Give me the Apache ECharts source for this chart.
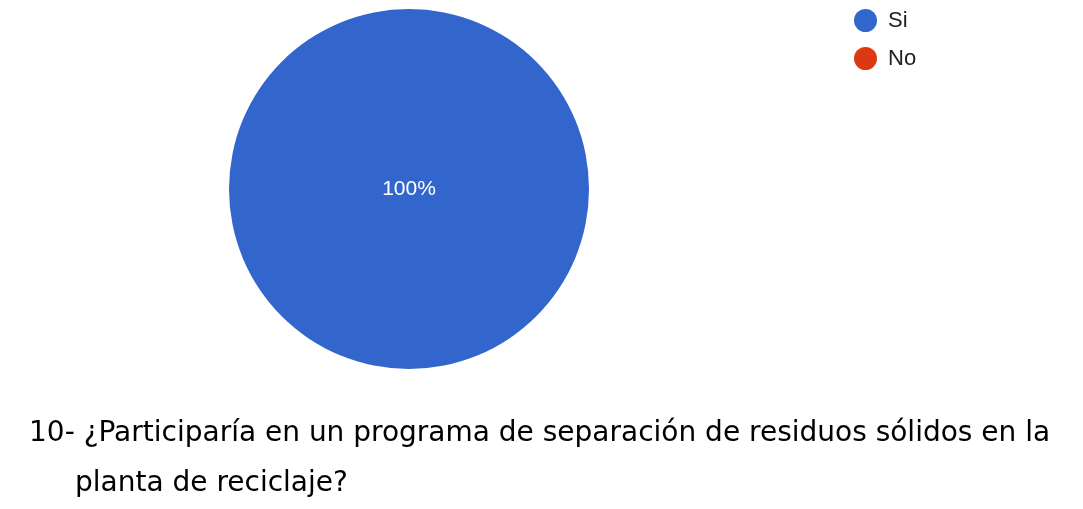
<!DOCTYPE html>
<html>
<head>
<meta charset="utf-8">
<script src="https://cdn.jsdelivr.net/npm/echarts@6/dist/echarts.min.js"></script>
<style>html,body{margin:0;padding:0;background:#fff;}#c{width:1083px;height:509px;}</style>
</head>
<body>
<div id="c"></div>
<script>
const categories = ["Si", "No"];
const values = [100, 0];
const colors = ["#3366cc", "#dc3912"];
const titleLines = [
  "10- ¿Participaría en un programa de separación de residuos sólidos en la",
  "planta de reciclaje?"
];

const chart = echarts.init(document.getElementById('c'));
chart.setOption({
  animation: false,
  color: colors,
  title: [
    { text: titleLines[0], left: 29, top: 420, padding: 0, textStyle: { fontFamily: 'DejaVu Sans', fontSize: 28, fontWeight: 'normal', color: '#000' } },
    { text: titleLines[1], left: 75, top: 470, padding: 0, textStyle: { fontFamily: 'DejaVu Sans', fontSize: 28, fontWeight: 'normal', color: '#000' } }
  ],
  legend: {
    orient: 'vertical',
    left: 849,
    top: 4,
    padding: 5,
    icon: 'circle',
    itemWidth: 23,
    itemHeight: 23,
    itemGap: 15,
    data: categories,
    textStyle: { fontFamily: 'Liberation Sans, Arial', fontSize: 22, color: '#222', padding: [0, 0, 0, 6] }
  },
  series: [{
    type: 'pie',
    center: [409, 189],
    radius: 180,
    startAngle: 90,
    clockwise: true,
    stillShowZeroSum: false,
    itemStyle: { borderWidth: 0 },
    label: {
      position: 'center',
      formatter: function (p) { return p.value > 0 ? Math.round(p.percent) + '%' : ''; },
      color: '#fff',
      fontFamily: 'Liberation Sans, Arial',
      fontSize: 21,
      fontWeight: 'normal'
    },
    labelLine: { show: false },
    emphasis: { disabled: true },
    data: categories.map((c, i) => ({ name: c, value: values[i] }))
  }]
});
</script>
</body>
</html>
